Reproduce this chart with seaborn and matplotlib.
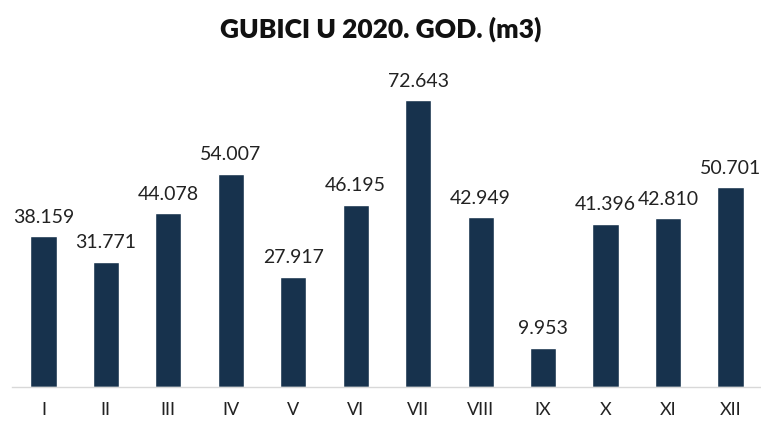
import matplotlib
matplotlib.use("Agg")
import matplotlib.pyplot as plt
import seaborn as sns
import pandas as pd

# months and losses (m3)
months = ['I', 'II', 'III', 'IV', 'V', 'VI', 'VII', 'VIII', 'IX', 'X', 'XI', 'XII']
losses = [38159, 31771, 44078, 54007, 27917, 46195, 72643, 42949, 9953, 41396, 42810, 50701]

df = pd.DataFrame({'mjesec': months, 'gubici': losses})

sns.set_style("white")
plt.rcParams['font.family'] = ['Lato', 'DejaVu Sans']

fig = plt.figure(figsize=(7.61, 4.21), dpi=100)
ax = fig.add_axes([0.016, 0.081, 0.985, 0.75])

sns.barplot(data=df, x='mjesec', y='gubici', color='#17324d', width=0.42,
            saturation=1, ax=ax)

for i, v in enumerate(losses):
    lbl = f"{v:,}".replace(',', '.')
    ax.text(i, v + 2600, lbl, ha='center', va='bottom', fontsize=14, color='#222222')

ax.set_ylim(0, 80000)
ax.set_xlim(-0.5, 11.5)
ax.set_yticks([])
ax.set_xlabel('')
ax.set_ylabel('')
for s in ['top', 'right', 'left']:
    ax.spines[s].set_visible(False)
ax.spines['bottom'].set_color('#d8d8d8')
ax.spines['bottom'].set_linewidth(1)
ax.tick_params(axis='x', length=0, pad=11, labelsize=13, colors='#222222')

fig.text(0.5, 0.93, 'GUBICI U 2020. GOD. (m3)', ha='center', va='center',
         fontsize=19, fontweight='heavy', color='#111111')

plt.savefig('out.png', dpi=100)
